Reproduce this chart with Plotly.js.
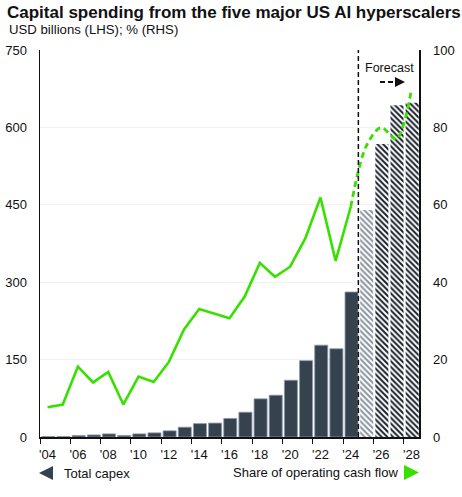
<!DOCTYPE html>
<html>
<head>
<meta charset="utf-8">
<script src="https://cdn.plot.ly/plotly-3.0.1.min.js"></script>
<style>html,body{margin:0;padding:0;background:#fff}#chart{width:462px;height:497px}</style>
</head>
<body>
<div id="chart"></div>
<script>
// ---- data ----
const years = [2004,2005,2006,2007,2008,2009,2010,2011,2012,2013,2014,2015,2016,2017,2018,2019,2020,2021,2022,2023,2024,2025,2026,2027,2028];
const capex = [1,1,3,4,6,3,6,8,12,19,26,27,36,48,74,81,110,148,178,171,281,440,568,643,648];
const isForecast = [0,0,0,0,0,0,0,0,0,0,0,0,0,0,0,0,0,0,0,0,0,1,2,2,2];
const shareYears = [2004,2005,2006,2007,2008,2009,2010,2011,2012,2013,2014,2015,2016,2017,2018,2019,2020,2021,2022,2023,2024];
const shareActual = [7.7,8.4,18.2,14.1,16.8,8.4,15.6,14.2,19.4,27.8,33.1,31.8,30.7,36.3,45.0,41.4,44.0,51.3,61.9,45.5,59.5];
const forecastYears = [2024,2025,2026,2027,2028];
const shareForecast = [59.5,75,80,77,89.7];
const xTickLabels = ["'04","'06","'08","'10","'12","'14","'16","'18","'20","'22","'24","'26","'28"];
const xTickYears = [2004,2006,2008,2010,2012,2014,2016,2018,2020,2022,2024,2026,2028];
const leftTicks = [0,150,300,450,600,750];
const rightTicks = [0,20,40,60,80,100];
const forecastStart = 2025;

// ---- styles ----
const barDark = '#36434f';
const green = '#38e000';
const fg = isForecast.map(f => f===1 ? '#8a949f' : (f===2 ? '#1a212b' : barDark));
const lineCols = isForecast.map(f => f ? 'rgba(0,0,0,0)' : '#8d9aab');
const lineW = isForecast.map(f => f ? 0 : 0.8);
const shapes = isForecast.map(f => f ? '\\' : '');

const traces = [
  {
    type: 'bar',
    x: years.map(y => y + 0.55),
    y: capex,
    width: 0.86,
    marker: {
      color: fg,
      line: {color: lineCols, width: lineW},
      pattern: {shape: shapes, fgcolor: fg, bgcolor: '#ffffff', fgopacity: 1, size: 4, solidity: 0.5, fillmode: 'replace'}
    },
    hoverinfo: 'skip',
    showlegend: false
  },
  {
    type: 'scatter', mode: 'lines',
    x: shareYears.map(y => y + 0.5),
    y: shareActual,
    yaxis: 'y2',
    line: {color: green, width: 2.6},
    showlegend: false
  },
  {
    type: 'scatter', mode: 'lines',
    x: forecastYears.map(y => y + 0.5),
    y: shareForecast,
    yaxis: 'y2',
    line: {color: green, width: 2.8, dash: '6px,4px', shape: 'spline', smoothing: 0.9},
    showlegend: false
  }
];

const px2paperX = x => (x - 40) / 379;
const px2paperY = y => (437 - y) / 387;
const tri = (pts) => 'M' + pts.map(p => px2paperX(p[0]) + ',' + px2paperY(p[1])).join(' L') + ' Z';

const layout = {
  width: 462, height: 497,
  margin: {l: 40, r: 43, t: 50, b: 60},
  paper_bgcolor: '#fff', plot_bgcolor: '#fff',
  font: {family: 'Liberation Sans, Arial, sans-serif', color: '#111', size: 13},
  title: {
    text: '<b>Capital spending from the five major US AI hyperscalers</b>',
    font: {size: 17, color: '#111'},
    xref: 'container', x: 7/462, xanchor: 'left',
    yref: 'container', y: 1 - 12/497, yanchor: 'middle'
  },
  bargap: 0,
  xaxis: {
    range: [2004, 2029],
    tickmode: 'array',
    tickvals: xTickYears.map(y => y + 0.5),
    ticktext: xTickLabels,
    ticks: 'outside', ticklen: 5, tickcolor: 'rgba(0,0,0,0)',
    minor: {tickmode: 'linear', tick0: 2004, dtick: 2, ticks: 'outside', ticklen: 5, tickcolor: '#111', tickwidth: 1, showgrid: false},
    showline: true, linecolor: '#111', linewidth: 1.5,
    showgrid: false, zeroline: false,
    tickfont: {size: 13}
  },
  yaxis: {
    range: [0, 750],
    tickmode: 'array', tickvals: leftTicks,
    ticks: 'outside', ticklen: 9, tickcolor: 'rgba(0,0,0,0)',
    showline: true, linecolor: '#111', linewidth: 1.5,
    showgrid: true, gridcolor: '#f0f1f5', gridwidth: 1,
    zeroline: false,
    tickfont: {size: 13}
  },
  yaxis2: {
    range: [0, 100], overlaying: 'y', side: 'right',
    tickmode: 'array', tickvals: rightTicks,
    ticks: 'outside', ticklen: 10, tickcolor: 'rgba(0,0,0,0)',
    showline: true, linecolor: '#111', linewidth: 1.5,
    showgrid: false, zeroline: false,
    tickfont: {size: 13}
  },
  shapes: [
    {type: 'line', xref: 'x', yref: 'paper', x0: forecastStart, x1: forecastStart, y0: 0, y1: 1,
     line: {color: '#111', width: 1.5, dash: '5px,3px'}},
    {type: 'line', xref: 'paper', yref: 'paper', x0: px2paperX(380), x1: px2paperX(398), y0: px2paperY(82), y1: px2paperY(82),
     line: {color: '#111', width: 2, dash: '5px,3px'}},
    {type: 'path', xref: 'paper', yref: 'paper', path: tri([[39,473],[53,466],[53,480]]),
     fillcolor: barDark, line: {width: 0}},
    {type: 'path', xref: 'paper', yref: 'paper', path: tri([[404,465],[419,472.5],[404,480]]),
     fillcolor: green, line: {width: 0}}
  ],
  annotations: [
    {text: 'USD billions (LHS); % (RHS)', xref: 'paper', yref: 'paper', x: px2paperX(7), y: px2paperY(30),
     xanchor: 'left', yanchor: 'middle', showarrow: false, font: {size: 13.2, color: '#111'}},
    {text: 'Forecast', xref: 'paper', yref: 'paper', x: px2paperX(389), y: px2paperY(68),
     xanchor: 'center', yanchor: 'middle', showarrow: false, font: {size: 12.5, color: '#111'}},
    {text: '', xref: 'paper', yref: 'paper', x: px2paperX(405), y: px2paperY(82), ax: -9, ay: 0,
     showarrow: true, arrowhead: 2, arrowsize: 1, arrowwidth: 2, arrowcolor: '#111'},
    {text: 'Total capex', xref: 'paper', yref: 'paper', x: px2paperX(62), y: px2paperY(473),
     xanchor: 'left', yanchor: 'middle', showarrow: false, font: {size: 13, color: '#111'}},
    {text: 'Share of operating cash flow', xref: 'paper', yref: 'paper', x: px2paperX(400), y: px2paperY(472),
     xanchor: 'right', yanchor: 'middle', showarrow: false, font: {size: 13, color: '#111'}}
  ]
};

Plotly.newPlot('chart', traces, layout, {staticPlot: true, displayModeBar: false});
</script>
</body>
</html>
